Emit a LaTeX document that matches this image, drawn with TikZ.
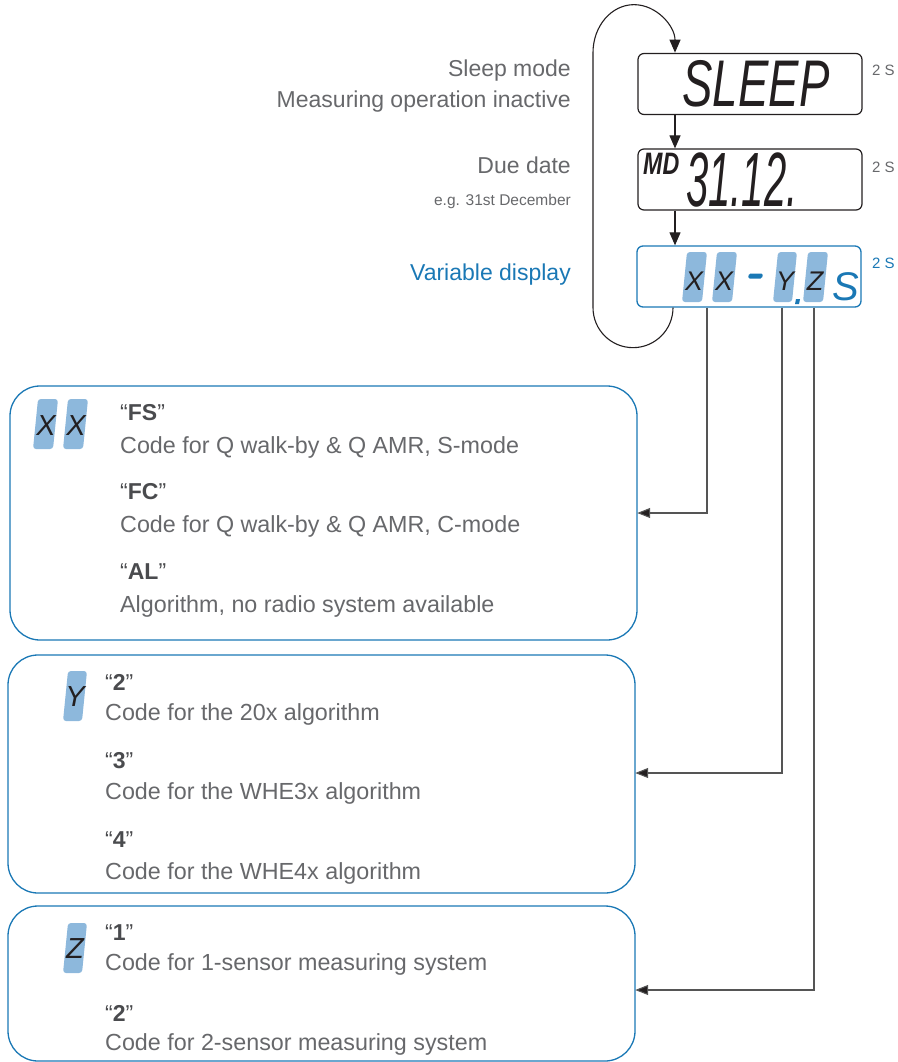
\documentclass[tikz,border=0pt]{standalone}
\usepackage{fontspec}
\setmainfont{Liberation Sans}
\usetikzlibrary{arrows.meta}
\definecolor{tblue}{HTML}{1A78B5}
\definecolor{lblue}{HTML}{8DB8DC}
\definecolor{tgray}{HTML}{67686B}
\definecolor{dgray}{HTML}{4A4B4E}
\definecolor{lcd}{HTML}{231F20}
\definecolor{cgray}{HTML}{555555}
\begin{document}
\begin{tikzpicture}[x=1pt,y=-1pt,
  lcdbox/.style={draw=lcd,line width=1.2pt,rounded corners=6pt,minimum width=224pt,minimum height=61pt,inner sep=0pt},
  varbox/.style={draw=tblue,line width=1.3pt,rounded corners=6pt,minimum width=224pt,minimum height=61pt,inner sep=0pt},
  infobox/.style={draw=tblue,line width=1.3pt,rounded corners=30pt},
  arr/.style={draw=lcd,line width=1.1pt,-{Triangle[length=13pt,width=11pt]}},
  conn/.style={draw=cgray,line width=1.1pt,-{Triangle[length=13pt,width=10pt,fill=lcd]}},
  lbl/.style={anchor=east,inner sep=0pt,text=tgray,font=\fontsize{23}{27}\selectfont},
  sml/.style={anchor=east,inner sep=0pt,text=tgray,font=\fontsize{15.5}{18}\selectfont},
  secs/.style={anchor=west,inner sep=0pt,text=tgray,font=\fontsize{15}{17}\selectfont},
  desc/.style={anchor=west,inner sep=0pt,text=tgray,font=\fontsize{23.3}{27}\selectfont},
  code/.style={anchor=west,inner sep=0pt,text=dgray,font=\fontsize{23}{27}\selectfont},
  glyph/.style={inner sep=0pt,text=lcd,font=\fontsize{29}{30}\selectfont\itshape},
  cell/.style={fill=lblue,rounded corners=3pt}
]
\useasboundingbox (0,0) rectangle (897,1062);

% LCD boxes
\node[lcdbox] (sleep) at (750,84) {};
\node[lcdbox] (md) at (750,179.5) {};
\node[varbox] (var) at (749,276.5) {};

\node[inner sep=0pt,text=lcd] (sleept) at (756,84) {\scalebox{0.69}[1]{\fontsize{66}{66}\selectfont\itshape SLEEP}};
\node[inner sep=0pt,text=lcd,anchor=west] (mdt) at (643,164) {\scalebox{0.75}[1]{\fontsize{31}{31}\selectfont\bfseries\itshape MD}};
\node[inner sep=0pt,text=lcd,anchor=west] (datet) at (686,180) {\scalebox{0.52}[1]{\fontsize{77}{77}\selectfont\itshape 31.12.}};

% 2 S labels
\node[secs] (s1) at (872,70) {2 S};
\node[secs] (s2) at (872,167) {2 S};
\node[secs,text=tblue] (s3) at (872,263) {2 S};

% left labels
\node[lbl] (l1) at (571,71) {Sleep mode};
\node[lbl] (l2) at (571,102) {Measuring operation inactive};
\node[lbl] (l3) at (571,165) {Due date};
\node[sml] (l4) at (571,201) {e.g. 31st December};
\node[lbl,text=tblue] (l5) at (571,275) {Variable display};

% variable display cells
\fill[cell] (682,302) -- (702,302) -- (707,252) -- (687,252) -- cycle;
\fill[cell] (712,302) -- (732,302) -- (737,252) -- (717,252) -- cycle;
\fill[cell] (773,302) -- (792,302) -- (797,252) -- (778,252) -- cycle;
\fill[cell] (803,302) -- (823,302) -- (828,252) -- (808,252) -- cycle;
\node[glyph,font=\fontsize{27}{28}\selectfont\itshape] (vx1) at (694,281) {X};
\node[glyph,font=\fontsize{27}{28}\selectfont\itshape] (vx2) at (724,281) {X};
\node[glyph,font=\fontsize{27}{28}\selectfont\itshape] (vy) at (785,281) {Y};
\node[glyph,font=\fontsize{27}{28}\selectfont\itshape] (vz) at (815,281) {Z};
\fill[tblue,rounded corners=1.5pt] (748,278.5) -- (762,278.5) -- (763,273.5) -- (749,273.5) -- cycle;
\fill[tblue] (795,304) -- (799,304) -- (800,299) -- (796,299) -- cycle;
\node[inner sep=0pt,text=tblue] (vs) at (846,287) {\fontsize{40}{40}\selectfont\itshape S};

% flow arrows
\draw[arr] ([xshift=-75pt]sleep.south) -- ([xshift=-75pt]md.north);
\draw[arr] ([xshift=-75pt]md.south) -- ([xshift=-74pt]var.north);
\draw[arr] ([xshift=-76pt]var.south) arc[start angle=0,end angle=180,radius=40]
   -- ++(0,-255) arc[start angle=180,end angle=360,x radius=41,y radius=48];

% info boxes
\draw[infobox] (10,386) rectangle (637,640);
\node (b1) at (323.5,513) [minimum width=627pt,minimum height=254pt,inner sep=0pt] {};
\draw[infobox] (8,655) rectangle (635,893);
\node (b2) at (321.5,773) [minimum width=627pt,minimum height=236pt,inner sep=0pt] {};
\draw[infobox] (8,906) rectangle (635,1061);
\node (b3) at (321.5,990) [minimum width=627pt,minimum height=10pt,inner sep=0pt] {};

% connectors
\draw[conn] ([xshift=-42pt]var.south) |- (b1.east);
\draw[conn] ([xshift=33pt]var.south) |- (b2.east);
\draw[conn] ([xshift=65pt]var.south) |- (b3.east);

% box 1
\fill[cell] (33,449) -- (53,449) -- (58,399) -- (38,399) -- cycle;
\fill[cell] (63,449) -- (83,449) -- (88,399) -- (68,399) -- cycle;
\node[glyph] (bx1) at (46,426) {X};
\node[glyph] (bx2) at (76,426) {X};
\node[code] (c1) at (120,413) {“\textbf{FS}”};
\node[desc] (d1) at (120,447) {Code for Q walk-by \& Q AMR, S-mode};
\node[code] (c2) at (120,492) {“\textbf{FC}”};
\node[desc] (d2) at (120,526) {Code for Q walk-by \& Q AMR, C-mode};
\node[code] (c3) at (120,572) {“\textbf{AL}”};
\node[desc] (d3) at (120,606) {Algorithm, no radio system available};

% box 2
\fill[cell] (63,721) -- (82,721) -- (87,671) -- (68,671) -- cycle;
\node[glyph] (by) at (75,697) {Y};
\node[code] (c4) at (105,682) {“\textbf{2}”};
\node[desc] (d4) at (105,714) {Code for the 20x algorithm};
\node[code] (c5) at (105,761) {“\textbf{3}”};
\node[desc] (d5) at (105,793) {Code for the WHE3x algorithm};
\node[code] (c6) at (105,840) {“\textbf{4}”};
\node[desc] (d6) at (105,873) {Code for the WHE4x algorithm};

% box 3
\fill[cell] (63,973) -- (82,973) -- (87,923) -- (68,923) -- cycle;
\node[glyph] (bz) at (75,949) {Z};
\node[code] (c7) at (105,933) {“\textbf{1}”};
\node[desc] (d7) at (105,964) {Code for 1-sensor measuring system};
\node[code] (c8) at (105,1013) {“\textbf{2}”};
\node[desc] (d8) at (105,1044) {Code for 2-sensor measuring system};
\end{tikzpicture}
\end{document}
